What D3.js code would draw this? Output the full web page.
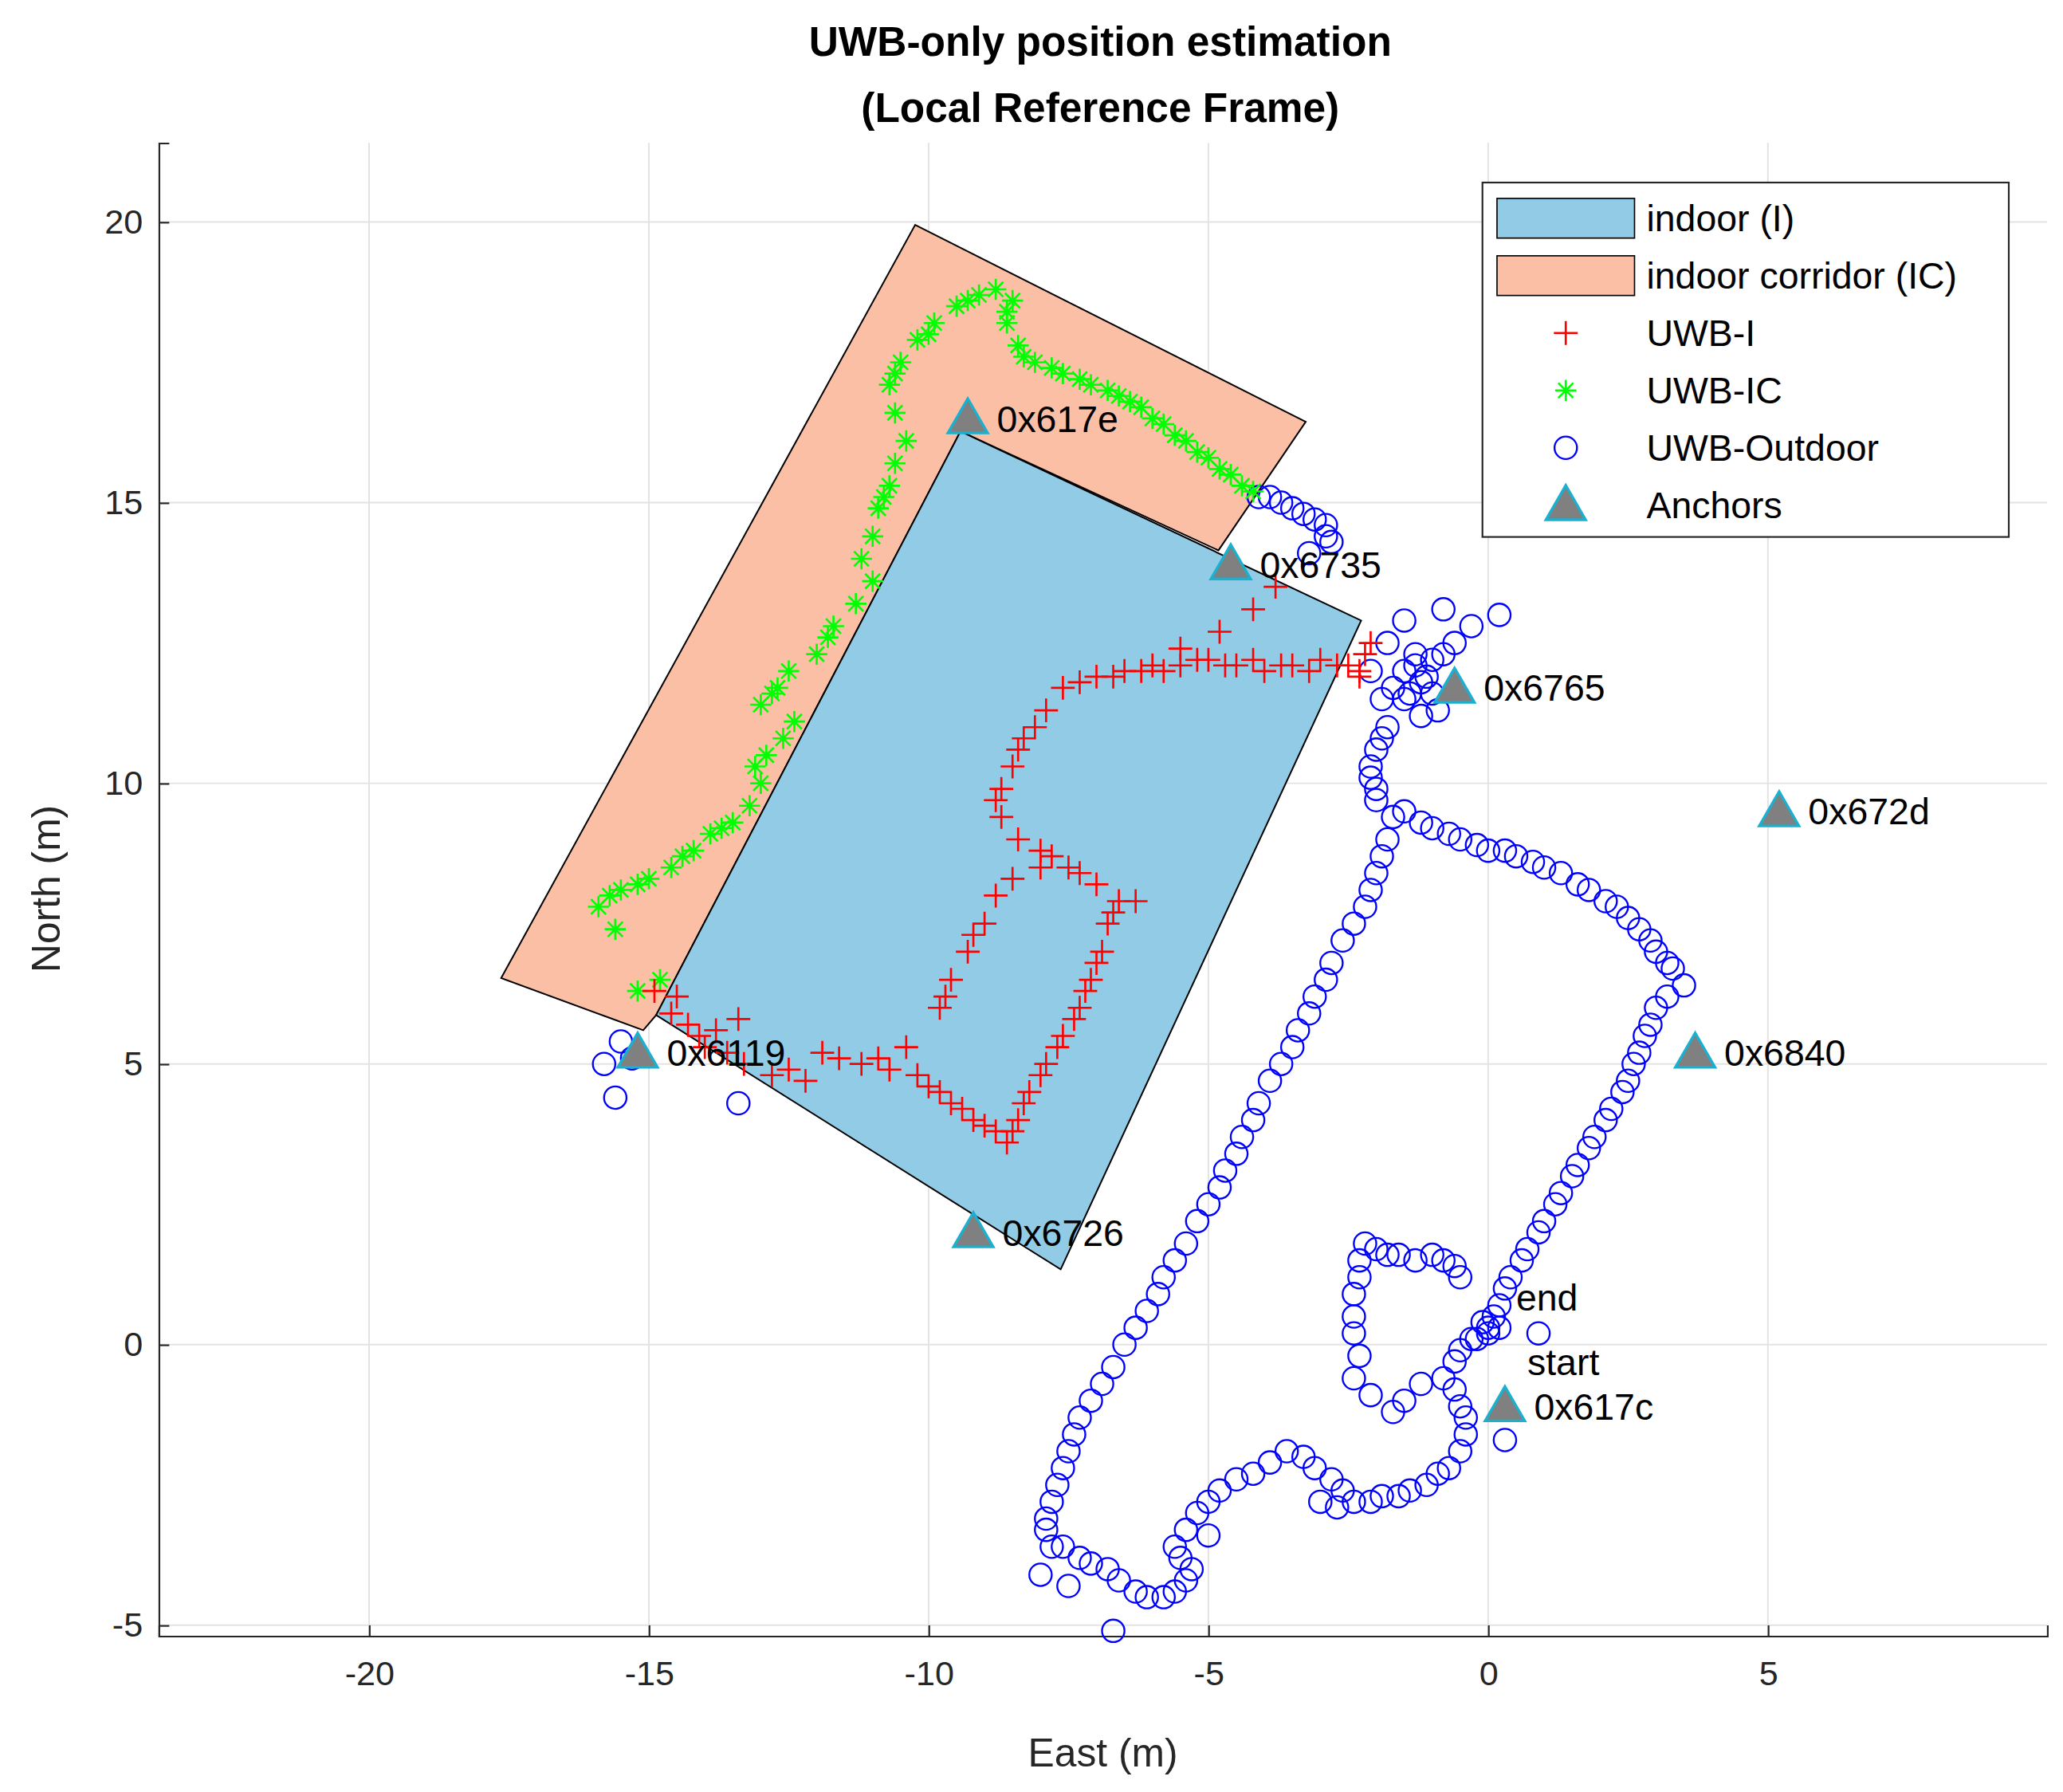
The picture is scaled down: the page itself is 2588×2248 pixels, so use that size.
<!DOCTYPE html><html><head><meta charset="utf-8"><script src="https://cdn.jsdelivr.net/npm/d3@7"></script>
<style>body{margin:0;background:#fff}text{font-family:Arial,"Liberation Sans",sans-serif}</style></head><body>
<script>
const xTicks=[-20,-15,-10,-5,0,5], yTicks=[-5,0,5,10,15,20];
const indoorPoly=[[-9.43,16.27],[-2.27,12.9],[-7.64,1.34],[-14.87,5.87]];
const corridorPoly=[[-10.24,19.95],[-3.26,16.44],[-4.82,14.15],[-9.43,16.27],[-14.87,5.87],[-15.1,5.6],[-17.64,6.53]];
const anchors=[["0x617e",-9.3,16.5],["0x6735",-4.6,13.9],["0x6765",-0.6,11.7],["0x672d",5.2,9.5],["0x6840",3.7,5.2],["0x6119",-15.2,5.2],["0x6726",-9.2,2.0],["0x617c",0.3,-1.1]];
const green=[[-15.2,6.3],[-14.8,6.5],[-15.6,7.4],[-15.9,7.8],[-15.7,8.0],[-15.5,8.1],[-15.2,8.2],[-15.0,8.3],[-14.6,8.5],[-14.4,8.7],[-14.2,8.8],[-13.9,9.1],[-13.7,9.2],[-13.5,9.3],[-13.2,9.6],[-13.0,10.0],[-13.1,10.3],[-12.9,10.5],[-12.6,10.8],[-12.4,11.1],[-13.0,11.4],[-12.8,11.6],[-12.7,11.7],[-12.5,12.0],[-12.0,12.3],[-11.8,12.6],[-11.7,12.8],[-11.3,13.2],[-11.0,13.6],[-11.2,14.0],[-11.0,14.4],[-10.9,14.9],[-10.8,15.1],[-10.7,15.3],[-10.6,15.7],[-10.4,16.1],[-10.6,16.6],[-10.7,17.1],[-10.6,17.3],[-10.5,17.5],[-10.2,17.9],[-10.0,18.0],[-9.9,18.2],[-9.5,18.5],[-9.3,18.6],[-9.1,18.7],[-8.8,18.8],[-8.5,18.6],[-8.6,18.4],[-8.6,18.2],[-8.4,17.8],[-8.3,17.6],[-8.1,17.5],[-7.8,17.4],[-7.6,17.3],[-7.3,17.2],[-7.1,17.1],[-6.8,17.0],[-6.6,16.9],[-6.4,16.8],[-6.2,16.7],[-6.0,16.5],[-5.8,16.4],[-5.6,16.2],[-5.4,16.1],[-5.2,15.9],[-5.0,15.8],[-4.8,15.6],[-4.6,15.5],[-4.4,15.3],[-4.2,15.2]];
const red=[[-14.9,6.3],[-14.6,5.9],[-14.5,6.2],[-14.3,5.7],[-14.1,5.5],[-13.8,5.6],[-13.4,5.8],[-14.0,5.3],[-13.6,5.2],[-13.3,5.0],[-12.8,4.8],[-12.5,4.9],[-12.2,4.7],[-11.9,5.2],[-11.6,5.1],[-11.2,5.0],[-10.9,5.1],[-10.7,4.9],[-10.4,5.3],[-10.2,4.8],[-10.0,4.6],[-9.8,4.5],[-9.6,4.3],[-9.4,4.2],[-9.2,4.0],[-9.0,3.9],[-8.8,3.8],[-8.6,3.6],[-8.5,3.8],[-8.4,4.0],[-8.3,4.3],[-8.2,4.5],[-8.0,4.8],[-7.9,5.0],[-7.7,5.3],[-7.6,5.5],[-7.4,5.8],[-7.3,6.0],[-7.2,6.3],[-7.1,6.5],[-7.0,6.8],[-6.9,7.0],[-6.8,7.5],[-6.7,7.7],[-6.6,7.9],[-6.3,7.9],[-7.0,8.2],[-7.3,8.4],[-7.5,8.5],[-7.8,8.7],[-8.0,8.8],[-8.4,9.0],[-8.7,9.4],[-8.8,9.7],[-8.7,9.9],[-8.5,10.3],[-8.4,10.6],[-8.3,10.8],[-8.1,11.0],[-7.9,11.3],[-7.6,11.7],[-7.3,11.8],[-7.0,11.9],[-6.7,11.9],[-6.5,12.0],[-6.2,12.0],[-6.0,12.1],[-5.8,12.0],[-5.5,12.1],[-5.2,12.2],[-5.0,12.2],[-4.7,12.1],[-4.5,12.1],[-4.2,12.2],[-4.0,12.0],[-3.7,12.1],[-3.5,12.1],[-3.2,12.0],[-3.0,12.2],[-2.7,12.1],[-2.5,12.1],[-2.3,12.0],[-2.2,12.3],[-2.1,12.5],[-2.3,11.9],[-9.8,6.0],[-9.7,6.2],[-9.6,6.5],[-9.3,7.0],[-9.2,7.3],[-9.0,7.5],[-8.8,8.0],[-8.5,8.3],[-8.0,8.5],[-5.5,12.4],[-4.8,12.7],[-4.2,13.1],[-3.8,13.5]];
const blue=[[-4.1,15.1],[-3.9,15.1],[-3.7,15.0],[-3.5,14.9],[-3.3,14.8],[-3.1,14.7],[-2.9,14.6],[-2.8,14.3],[-2.9,14.4],[-3.2,14.1],[-1.8,12.5],[-1.5,12.0],[-1.3,12.1],[-1.2,11.8],[-1.4,11.6],[-1.1,11.9],[-1.3,12.3],[-1.0,12.2],[-0.8,12.3],[-0.6,12.5],[-0.3,12.8],[0.2,13.0],[-0.8,13.1],[-1.5,12.9],[-1.9,11.5],[-1.7,11.7],[-1.5,11.5],[-1.2,11.2],[-0.9,11.3],[-1.0,11.6],[-2.1,12.0],[-1.8,11.0],[-1.9,10.8],[-2.0,10.6],[-2.1,10.3],[-2.1,10.1],[-2.0,9.9],[-2.0,9.7],[-1.7,9.4],[-1.5,9.5],[-1.2,9.3],[-1.0,9.2],[-0.7,9.1],[-0.5,9.0],[-0.2,8.9],[0.0,8.8],[0.3,8.8],[0.5,8.7],[0.8,8.6],[1.0,8.5],[1.3,8.4],[1.6,8.2],[1.8,8.1],[2.1,7.9],[2.3,7.8],[2.5,7.6],[2.7,7.4],[2.9,7.2],[3.0,7.0],[3.2,6.8],[3.3,6.7],[3.5,6.4],[3.2,6.2],[3.0,6.0],[2.9,5.7],[2.8,5.5],[2.7,5.2],[2.6,5.0],[2.5,4.7],[2.4,4.5],[2.2,4.2],[2.1,4.0],[1.9,3.7],[1.8,3.5],[1.6,3.2],[1.5,3.0],[1.3,2.7],[1.2,2.5],[1.0,2.2],[0.9,2.0],[0.7,1.7],[0.6,1.5],[0.4,1.2],[0.3,1.0],[0.2,0.7],[0.1,0.5],[0,0.2],[-0.1,0.4],[0.2,0.3],[-0.2,0.1],[-1.8,9.0],[-1.9,8.7],[-2.0,8.4],[-2.1,8.1],[-2.2,7.8],[-2.4,7.5],[-2.6,7.2],[-2.8,6.8],[-2.9,6.5],[-3.1,6.2],[-3.2,5.9],[-3.4,5.6],[-3.5,5.3],[-3.7,5.0],[-3.9,4.7],[-4.1,4.3],[-4.2,4.0],[-4.4,3.7],[-4.5,3.4],[-4.7,3.1],[-4.8,2.8],[-5.0,2.5],[-5.2,2.2],[-5.4,1.8],[-5.6,1.5],[-5.8,1.2],[-5.9,0.9],[-6.1,0.6],[-6.3,0.3],[-6.5,0.0],[-6.7,-0.4],[-6.9,-0.7],[-7.1,-1.0],[-7.3,-1.3],[-7.4,-1.6],[-7.5,-1.9],[-7.6,-2.2],[-7.7,-2.5],[-7.8,-2.8],[-7.9,-3.1],[-7.9,-3.3],[-7.8,-3.6],[-7.6,-3.6],[-7.3,-3.8],[-7.1,-3.9],[-6.8,-4.0],[-6.6,-4.2],[-6.3,-4.4],[-6.1,-4.5],[-5.8,-4.5],[-5.6,-4.4],[-5.4,-4.2],[-5.3,-4.0],[-5.5,-3.8],[-5.6,-3.6],[-5.4,-3.3],[-5.2,-3.0],[-5.0,-2.8],[-4.8,-2.6],[-4.5,-2.4],[-4.2,-2.3],[-3.9,-2.1],[-3.6,-1.9],[-3.3,-2.0],[-3.1,-2.2],[-2.8,-2.4],[-2.6,-2.6],[-2.4,-2.8],[-2.1,-2.8],[-1.9,-2.7],[-1.6,-2.7],[-1.4,-2.6],[-1.1,-2.5],[-0.9,-2.3],[-0.7,-2.2],[-0.5,-1.9],[-0.4,-1.6],[-0.4,-1.3],[-0.5,-1.1],[-0.6,-0.8],[-0.8,-0.6],[-0.6,-0.3],[-0.5,-0.1],[-0.3,0.1],[0,0.3],[-2.3,-0.2],[-2.4,0.2],[-2.4,0.5],[-2.4,0.9],[-2.3,1.2],[-2.3,1.5],[-2.2,1.8],[-2.0,1.7],[-1.8,1.6],[-1.6,1.6],[-1.3,1.5],[-1.0,1.6],[-0.8,1.5],[-0.6,1.4],[-0.5,1.2],[-1.2,-0.7],[-1.5,-1.0],[-1.7,-1.2],[-2.1,-0.9],[-2.4,-0.6],[-6.7,-5.1],[-13.4,4.3],[-15.6,4.4],[-15.8,5.0],[-15.5,5.4],[-15.3,5.1],[0.9,0.2],[0.3,-1.7],[-3.0,-2.8],[-2.7,-2.9],[-5.0,-3.4],[-8.0,-4.1],[-7.5,-4.3]];
const legendItems=["indoor (I)","indoor corridor (IC)","UWB-I","UWB-IC","UWB-Outdoor","Anchors"];

const svg=d3.select("body").append("svg").attr("width",2588).attr("height",2248).attr("viewBox","0 0 1560 1355");
const L=120,R=1548,T=108,B=1237;
const x=d3.scaleLinear().domain([-23.76,9.99]).range([L,R]);
const y=d3.scaleLinear().domain([-5.19,21.41]).range([B,T]);
const g=svg.append("g");
g.selectAll(".gx").data(xTicks).join("line").attr("x1",d=>x(d)).attr("x2",d=>x(d)).attr("y1",T).attr("y2",B).attr("stroke","#e3e3e3").attr("stroke-width",1.2);
g.selectAll(".gy").data(yTicks).join("line").attr("y1",d=>y(d)).attr("y2",d=>y(d)).attr("x1",L).attr("x2",R).attr("stroke","#e3e3e3").attr("stroke-width",1.2);
const fmt=d=>String(d);
const ax=svg.append("g").attr("transform",`translate(0,${B})`).call(d3.axisBottom(x).tickValues(xTicks).tickFormat(fmt).tickSize(-8).tickPadding(14));
const ay=svg.append("g").attr("transform",`translate(${L},0)`).call(d3.axisLeft(y).tickValues(yTicks).tickFormat(fmt).tickSize(-8).tickPadding(12));
[ax,ay].forEach(a=>{a.selectAll("text").attr("font-size",26).attr("fill","#262626");a.selectAll("path,line").attr("stroke","#262626").attr("stroke-width",1.3);});
ax.selectAll("text").attr("dy","0.9em");
const line=d3.line().x(d=>x(d[0])).y(d=>y(d[1]));
svg.append("path").attr("d",line(corridorPoly)+"Z").attr("fill","#fbbfa6").attr("stroke","#000").attr("stroke-width",1.2);
svg.append("path").attr("d",line(indoorPoly)+"Z").attr("fill","#92cbe6").attr("stroke","#000").attr("stroke-width",1.2);
svg.selectAll(".b").data(blue).join("circle").attr("cx",d=>x(d[0])).attr("cy",d=>y(d[1])).attr("r",8.5).attr("fill","none").attr("stroke","#0000ff").attr("stroke-width",1.4);
const star=(s)=>[0,45,90,135].map(a=>`M${-s*Math.cos(a*Math.PI/180)},${-s*Math.sin(a*Math.PI/180)}L${s*Math.cos(a*Math.PI/180)},${s*Math.sin(a*Math.PI/180)}`).join("");
svg.selectAll(".g").data(green).join("path").attr("transform",d=>`translate(${x(d[0])},${y(d[1])})`).attr("d",star(8)).attr("stroke","#00ff00").attr("stroke-width",1.6);
svg.selectAll(".r").data(red).join("path").attr("transform",d=>`translate(${x(d[0])},${y(d[1])})`).attr("d","M-9,0H9M0,-9V9").attr("stroke","#ff0000").attr("stroke-width",1.6);
const tri="M0,-15L15,11L-15,11Z";
anchors.forEach(a=>{svg.append("path").attr("transform",`translate(${x(a[1])},${y(a[2])})`).attr("d",tri).attr("fill","#808080").attr("stroke","#1ab0d0").attr("stroke-width",2);
 svg.append("text").attr("x",x(a[1])+22).attr("y",y(a[2])+10).attr("font-size",28).text(a[0]);});
svg.append("text").attr("x",x(0.5)).attr("y",y(0.6)).attr("font-size",28).text("end");
svg.append("text").attr("x",x(0.7)).attr("y",y(-0.55)).attr("font-size",28).text("start");
svg.append("text").attr("x",832).attr("y",42).attr("text-anchor","middle").attr("font-size",31).attr("font-weight","bold").text("UWB-only position estimation");
svg.append("text").attr("x",832).attr("y",92).attr("text-anchor","middle").attr("font-size",31).attr("font-weight","bold").text("(Local Reference Frame)");
svg.append("text").attr("x",834).attr("y",1336).attr("text-anchor","middle").attr("font-size",30).attr("fill","#262626").text("East (m)");
svg.append("text").attr("transform","translate(45,672) rotate(-90)").attr("text-anchor","middle").attr("font-size",30).attr("fill","#262626").text("North (m)");
const lg=svg.append("g");
lg.append("rect").attr("x",1121).attr("y",138).attr("width",398).attr("height",268).attr("fill","#fff").attr("stroke","#262626").attr("stroke-width",1.3);
legendItems.forEach((t,i)=>{const cy=165+i*43.4,cx=1184;
 if(i<2)lg.append("rect").attr("x",1132).attr("y",cy-15).attr("width",104).attr("height",30).attr("fill",i?"#fbbfa6":"#92cbe6").attr("stroke","#000");
 if(i==2)lg.append("path").attr("transform",`translate(${cx},${cy})`).attr("d","M-9,0H9M0,-9V9").attr("stroke","#f00").attr("stroke-width",1.6);
 if(i==3)lg.append("path").attr("transform",`translate(${cx},${cy})`).attr("d",star(8)).attr("stroke","#0f0").attr("stroke-width",1.6);
 if(i==4)lg.append("circle").attr("cx",cx).attr("cy",cy).attr("r",8.5).attr("fill","none").attr("stroke","#00f").attr("stroke-width",1.4);
 if(i==5)lg.append("path").attr("transform",`translate(${cx},${cy})`).attr("d",tri).attr("fill","#808080").attr("stroke","#1ab0d0").attr("stroke-width",2);
 lg.append("text").attr("x",1245).attr("y",cy+10).attr("font-size",28).text(t);});
</script></body></html>
